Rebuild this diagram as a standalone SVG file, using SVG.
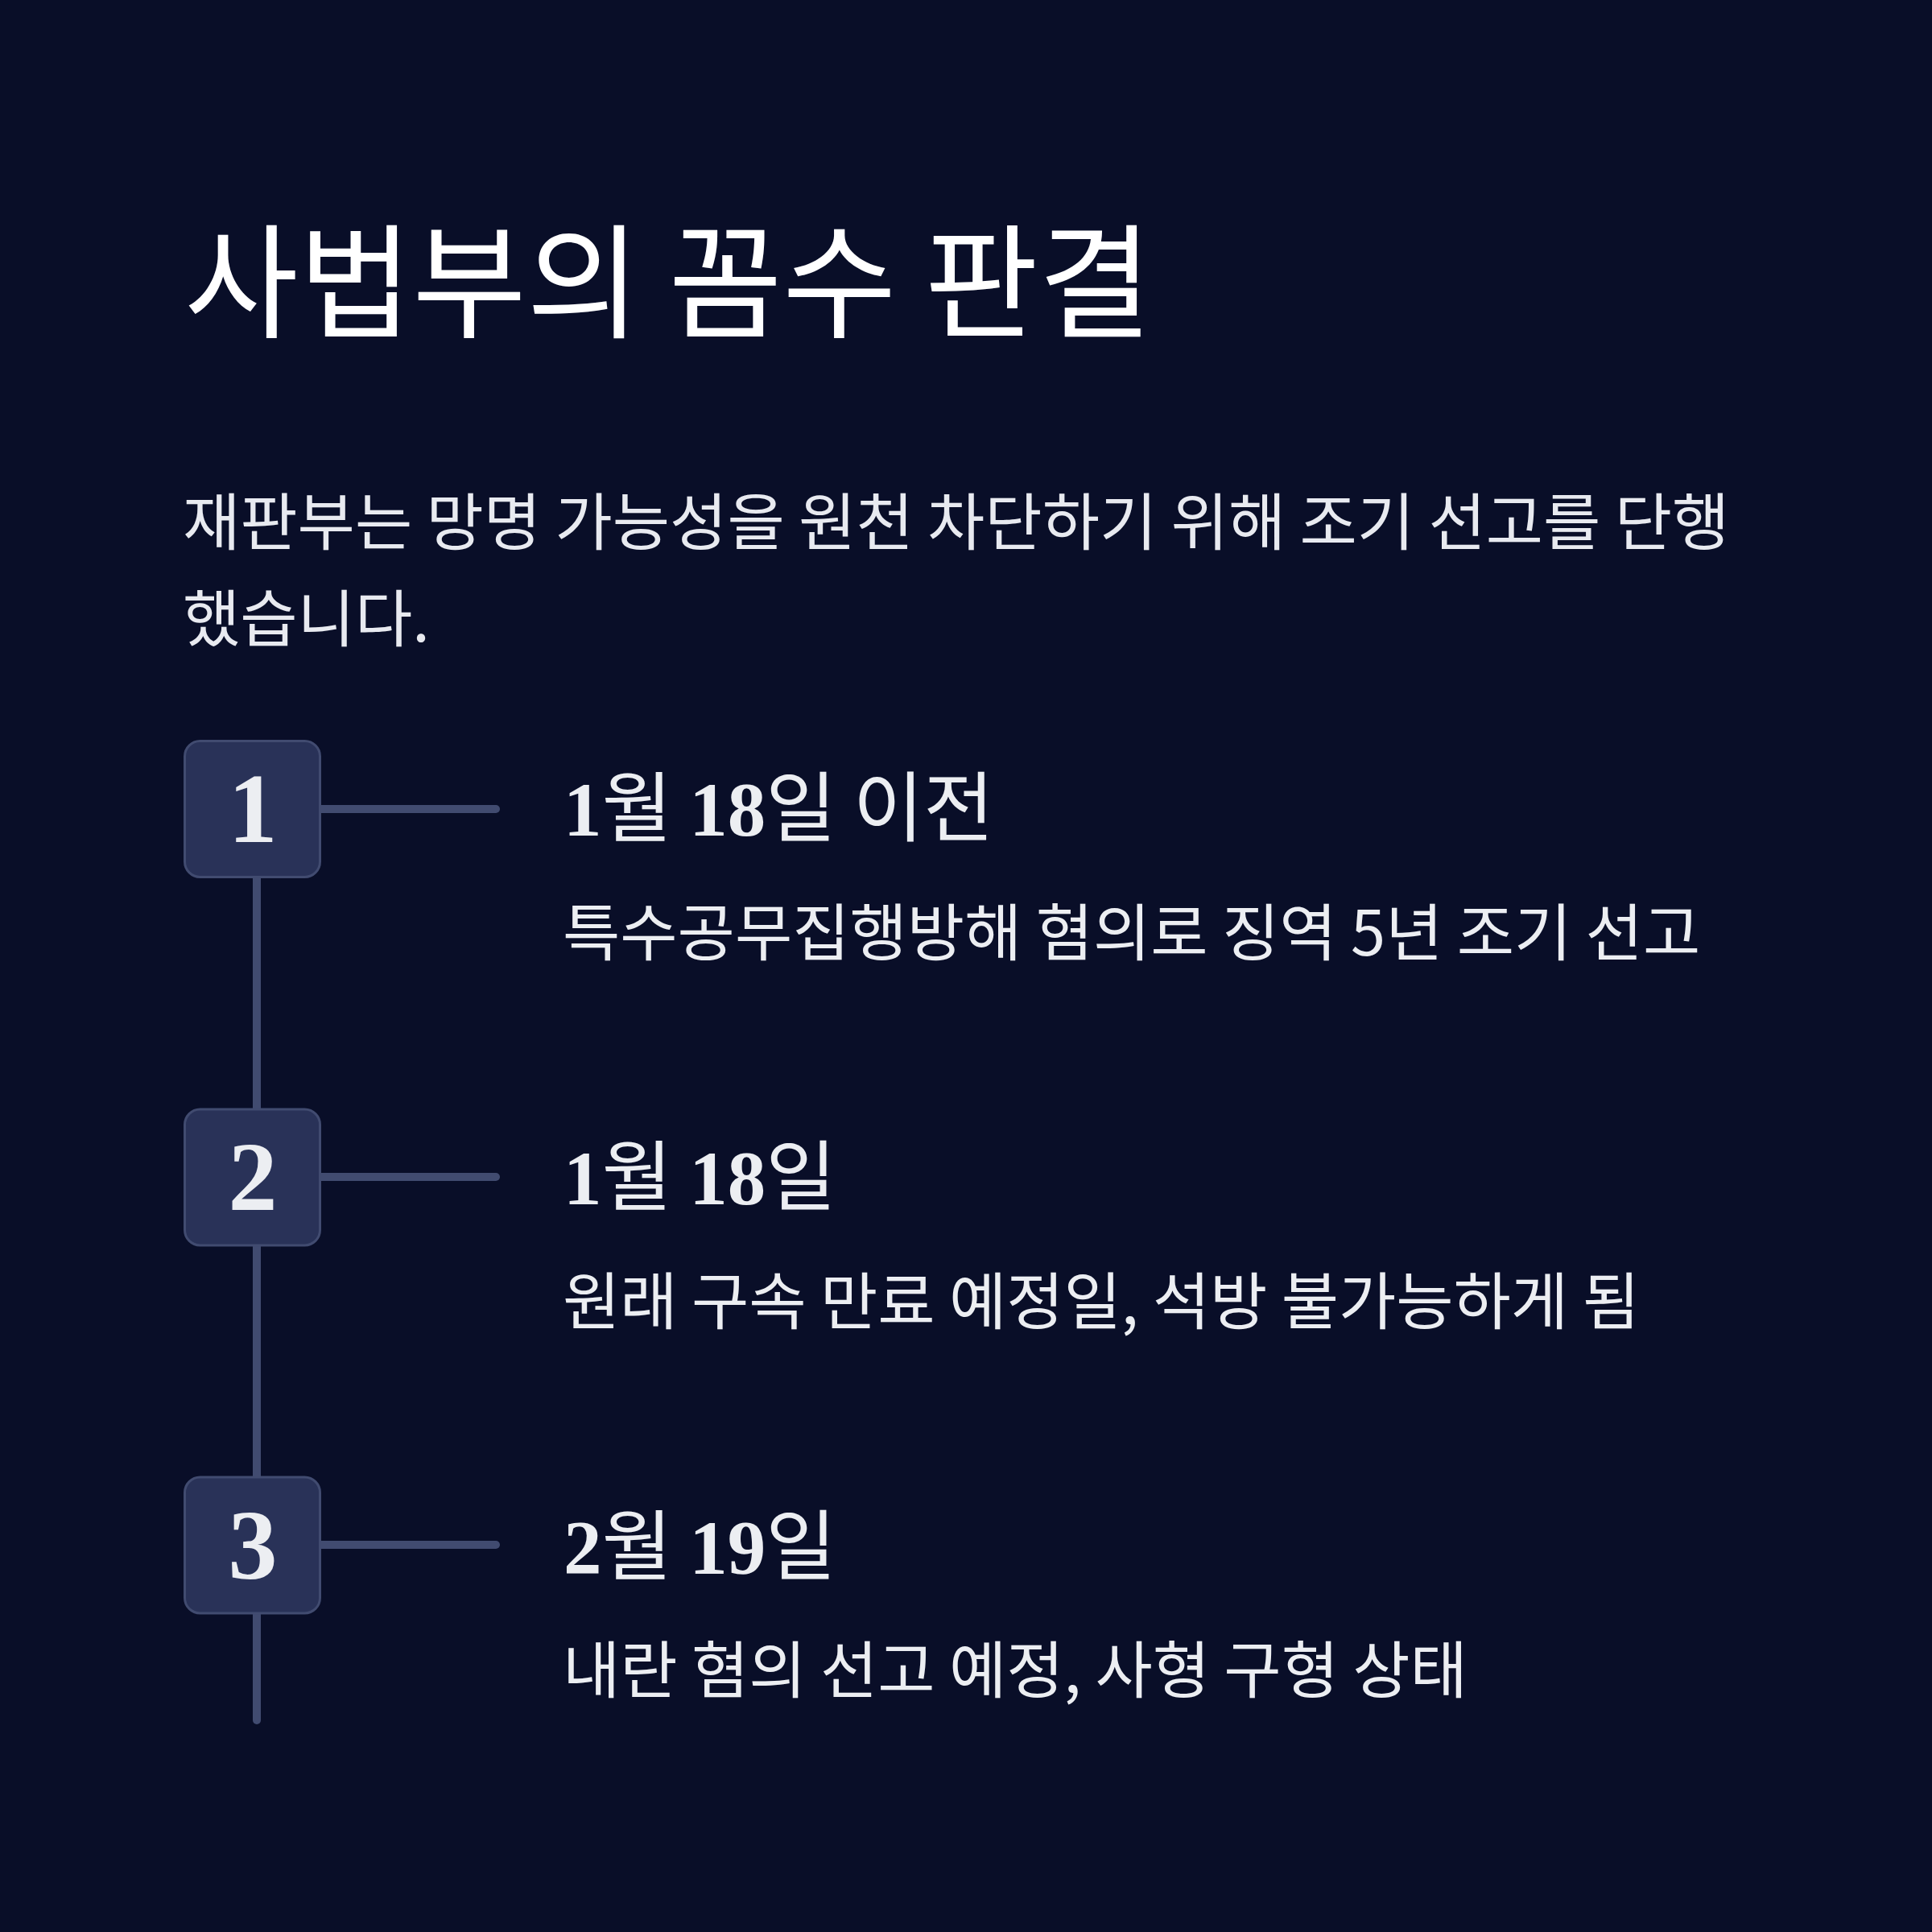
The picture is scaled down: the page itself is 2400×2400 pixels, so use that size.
<svg xmlns="http://www.w3.org/2000/svg" width="2400" height="2400" viewBox="0 0 2400 2400">
<style>
.bg{fill:#090E28}
.title{font-family:"Noto Sans CJK KR","Noto Sans",sans-serif;font-size:154px;fill:#FFFFFF}
.para{font-family:"Noto Sans CJK KR","Noto Sans",sans-serif;font-size:77.5px;fill:#E8EAF0}
.box{fill:#293258;stroke:#414B70;stroke-width:3}
.num{font-family:"Liberation Serif",serif;font-weight:bold;font-size:122px;fill:#ECEEF2;text-anchor:middle}
.date{font-family:"Noto Sans CJK KR","Noto Sans",sans-serif;font-size:95px;fill:#ECEEF2}
.d{font-family:"Liberation Serif",serif;font-weight:bold}
.sub{font-family:"Noto Sans CJK KR","Noto Sans",sans-serif;font-size:77.5px;fill:#ECEEF2}
.conn{stroke:#414B70;stroke-width:10;stroke-linecap:round;fill:none}
</style>
<rect class="bg" x="0" y="0" width="2400" height="2400"/>
<g id="title"><text class="title" x="229" y="408">사법부의 꼼수 판결</text></g>
<g id="intro">
<text class="para" x="227" y="677">재판부는 망명 가능성을 원천 차단하기 위해 조기 선고를 단행</text>
<text class="para" x="227" y="797">했습니다.</text>
</g>
<g id="connectors">
<line class="conn" x1="319" y1="1091" x2="319" y2="2137"/>
<line class="conn" x1="399" y1="1005" x2="616" y2="1005"/>
<line class="conn" x1="399" y1="1462" x2="616" y2="1462"/>
<line class="conn" x1="399" y1="1919" x2="616" y2="1919"/>
</g>
<g id="step1">
<rect class="box" x="229.5" y="920.5" width="168" height="169" rx="19"/>
<text class="num" x="314" y="1046">1</text>
<text class="date" x="700" y="1038"><tspan class="d">1</tspan>월 <tspan class="d">18</tspan>일 이전</text>
<text class="sub" x="699" y="1187">특수공무집행방해 혐의로 징역 5년 조기 선고</text>
</g>
<g id="step2">
<rect class="box" x="229.5" y="1378" width="168" height="169" rx="19"/>
<text class="num" x="314" y="1503">2</text>
<text class="date" x="700" y="1496"><tspan class="d">1</tspan>월 <tspan class="d">18</tspan>일</text>
<text class="sub" x="699" y="1645">원래 구속 만료 예정일, 석방 불가능하게 됨</text>
</g>
<g id="step3">
<rect class="box" x="229.5" y="1835" width="168" height="169" rx="19"/>
<text class="num" x="314" y="1961">3</text>
<text class="date" x="700" y="1955"><tspan class="d">2</tspan>월 <tspan class="d">19</tspan>일</text>
<text class="sub" x="699" y="2103">내란 혐의 선고 예정, 사형 구형 상태</text>
</g>
</svg>
